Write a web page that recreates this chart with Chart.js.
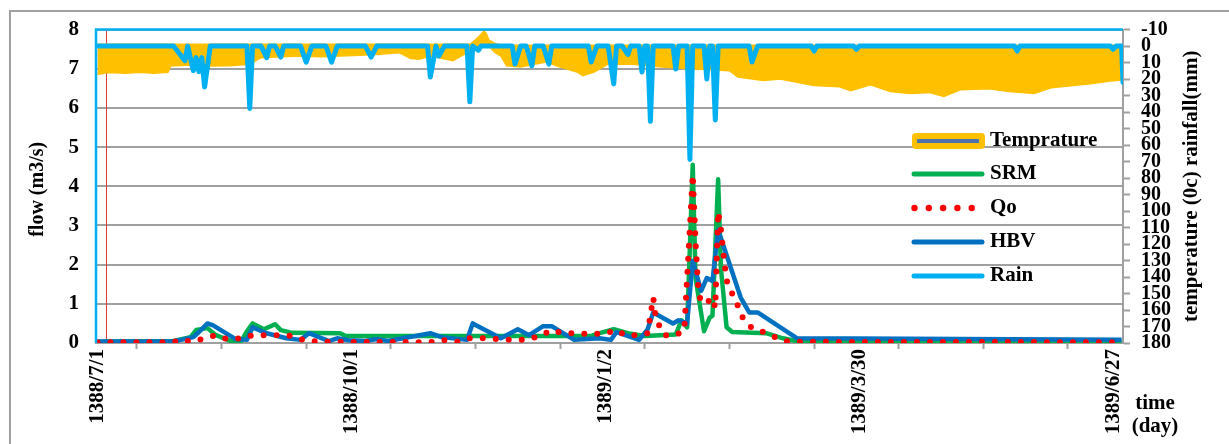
<!DOCTYPE html>
<html>
<head>
<meta charset="utf-8">
<style>html,body{margin:0;padding:0;background:#fff;}canvas{display:block;}</style>
<script src="https://cdn.jsdelivr.net/npm/chart.js@4.4.0/dist/chart.umd.min.js"></script>
</head>
<body>
<canvas id="c" width="1229" height="444"></canvas>
<script>
// ---------- DATA (day index from 1388/7/1) ----------
const xLabelDays = [0, 90, 180, 270, 360];
const xLabels = ['1388/7/1', '1388/10/1', '1389/1/2', '1389/3/30', '1389/6/27'];
const xMinorTickDays = [14, 44, 74, 104, 134, 164, 194, 224, 254, 284, 314, 344];
const flowTicks = [0, 1, 2, 3, 4, 5, 6, 7, 8];
const rightTicks = [-10, 0, 10, 20, 30, 40, 50, 60, 70, 80, 90, 100, 110, 120, 130, 140, 150, 160, 170, 180];

const hbvDays = [0,27,34,36,39,41,49,53,55,60,67,72,75,82,85,89,95,99,103,118,122,131,133,143,149,153,158,161,169,178,182,184,192,195,197,204,206,209,211,214,216,218,220,228,231,234,248,363];
const hbvFlow = [0.04,0.04,0.15,0.28,0.5,0.45,0.1,0.08,0.4,0.25,0.12,0.08,0.25,0.05,0.12,0.07,0.05,0.1,0.05,0.25,0.15,0.08,0.5,0.12,0.35,0.2,0.43,0.43,0.08,0.12,0.08,0.28,0.08,0.35,0.78,0.5,0.58,0.5,2.09,1.33,1.66,1.58,2.89,1.16,0.78,0.78,0.12,0.08];

const srmDays = [0,27,33,35,39,42,48,51,53,55,59,63,65,69,86,88,175,178,183,188,194,205,207,209,211,212,215,217,218,220,221,223,225,237,243,249,363];
const srmFlow = [0.03,0.05,0.15,0.33,0.38,0.2,0.03,0.05,0.3,0.5,0.35,0.48,0.33,0.26,0.25,0.18,0.18,0.25,0.35,0.25,0.18,0.22,0.58,0.4,4.55,1.66,0.3,0.65,0.7,4.18,1.9,0.4,0.28,0.25,0.12,0.03,0.03];

const qoDays = [0,27,29,34,38,42,46,52,55,59,64,69,74,82,118,122,128,132,137,147,152,157,161,165,170,175,180,184,187,191,195,197,198,201,205,208,211,212,213,214,216,218,219,220,221,222,223,225,227,229,232,236,241,245,363];
const qoFlow = [0.02,0.02,0.08,0.03,0.12,0.2,0.1,0.12,0.2,0.2,0.2,0.18,0.05,0.03,0.02,0.08,0.03,0.12,0.12,0.08,0.08,0.18,0.33,0.25,0.25,0.22,0.25,0.33,0.2,0.2,0.25,1.16,0.6,0.2,0.2,0.33,4.3,2.6,1.33,1.03,1.03,1.16,0.9,3.35,2.9,2.2,1.6,1.26,0.95,0.6,0.38,0.28,0.12,0.03,0.02];

const rainDays = [0,27,31,32,34,35,36,37,38,40,53,54,55,58,60,61,63,65,66,72,74,76,81,83,85,95,97,99,117,118,120,121,123,131,132,133,135,136,147,148,150,152,154,155,158,160,161,174,175,177,181,183,184,186,188,189,192,193,194,195,196,197,204,205,206,209,210,211,215,216,217,218,219,220,231,232,234,253,254,255,268,269,270,325,326,327,359,360,361,363,363.5];
const rainMm = [0,0,8.9,0,14.9,7,15.5,7,24.8,0,0,37.8,0,0,7,0,0,6.7,0,0,9.7,0,0,9.7,0,0,6.7,0,0,18.7,0,6,0,0,33.8,0,2.5,0,0,10.9,0,0,11.9,0,0,10.9,0,0,9.7,0,0,22.9,0,0,5,0,0,15.7,0,0,45.6,0,0,13.9,0,0,68.7,0,0,19.9,0,0,44.8,0,0,9.7,0,0,3,0,0,2,0,0,3,0,0,2,0,0,22];

const tempDays = [0,4,10,15,20,25,26,33,40,47,54,58,65,72,79,86,93,100,107,111,114,118,126,132,133,135,137,138,139,141,143,145,150,159,164,170,172,176,181,185,190,200,212,224,227,236,242,248,254,263,267,274,281,288,295,300,306,316,323,332,338,345,352,359,363];
const tempLow = [-1.5,-1.5,-1.5,-1.5,-1.5,-1.5,-1.5,-1.5,-1.5,-1.5,-1.5,-1.5,-1.5,-1.5,-1.5,-1.5,-1.5,-1.5,-1.5,-1.5,-1.5,-1.5,-1.5,-1.5,-3,-6,-9.8,-8,-4,-2,-1,-1,-1,-1,-1,-1,-1,-1,-1,-1,-1,-1,-1,-1,-1,-1,-1,-1,-1,-1,-1,-1,-1,-1,-1,-1,-1,-1,-1,-1,-1,-1,-1,-1,-1];
const tempHigh = [17.2,16,16.5,15.8,16.5,15.9,12,11.5,12,11.9,11,7,6.5,6,6.5,6,5.5,5,4,7.5,8,6,8.9,3,2,0.5,0,0.3,0.5,4,6,11.9,12.7,9.7,12.7,15.7,17.9,15.7,10.9,11,11,12.7,13.9,14.9,18.7,20.9,20,21.9,23.9,24.7,27,23.5,27.6,28.8,28.2,30.6,26.4,25.8,27.6,28.8,25.3,24.1,22.9,21.1,20.5];

// ---------- STYLE ----------
const FONT = "'Liberation Serif','Times New Roman',serif";
const GRID = '#A0A0A0';
const C_TEMP = '#FFC000', C_RAIN = '#00B0F0', C_SRM = '#00B050', C_QO = '#FF0000', C_HBV = '#0070C0';

const pts = (d, v) => d.map((x, i) => ({x: x, y: v[i]}));

const legendItems = [
  {label: 'Temprature', kind: 'temp'},
  {label: 'SRM', kind: 'line', color: C_SRM},
  {label: 'Qo', kind: 'dots', color: C_QO},
  {label: 'HBV', kind: 'line', color: C_HBV},
  {label: 'Rain', kind: 'line', color: C_RAIN}
];

const deco = {
  id: 'deco',
  beforeDraw(chart) {
    const c = chart.ctx;
    c.save();
    c.fillStyle = '#fff';
    c.fillRect(0, 0, chart.width, chart.height);
    c.strokeStyle = GRID; c.lineWidth = 2;
    c.beginPath(); c.moveTo(10, chart.height); c.lineTo(10, 11); c.lineTo(chart.width, 11); c.stroke();
    c.restore();
  },
  beforeDatasetsDraw(chart) {
    const c = chart.ctx, a = chart.chartArea, xs = chart.scales.x;
    const px = Math.round(xs.getPixelForValue(3)) + 0.5;
    c.save();
    c.strokeStyle = '#E0403C'; c.lineWidth = 1;
    c.beginPath(); c.moveTo(px, a.top); c.lineTo(px, a.bottom); c.stroke();
    c.restore();
  },
  afterDatasetsDraw(chart) {
    const c = chart.ctx, a = chart.chartArea;
    c.save();
    c.strokeStyle = C_RAIN; c.lineWidth = 2.5;
    c.beginPath(); c.moveTo(a.left, a.bottom); c.lineTo(a.left, a.top); c.lineTo(a.right, a.top); c.stroke();
    c.restore();
  },
  afterDraw(chart) {
    const c = chart.ctx, a = chart.chartArea;
    c.save();
    c.fillStyle = '#000';
    c.textAlign = 'center'; c.textBaseline = 'middle';
    // left axis title
    c.font = 'bold 20px ' + FONT;
    c.save(); c.translate(38, (a.top + a.bottom) / 2 + 3); c.rotate(-Math.PI / 2); c.fillText('flow (m3/s)', 0, 0); c.restore();
    // right axis title
    c.font = 'bold 21px ' + FONT;
    c.save(); c.translate(1192, (a.top + a.bottom) / 2); c.rotate(-Math.PI / 2); c.fillText('temperature (0c) rainfall(mm)', 0, 0); c.restore();
    // x axis title
    c.fillText('time', 1155, 404);
    c.fillText('(day)', 1155, 427);
    // legend
    const lx0 = 912, lx1 = 984, tx = 990;
    const ys = [141, 174, 208, 242, 276];
    legendItems.forEach((it, i) => {
      const y = ys[i];
      if (it.kind === 'temp') {
        c.fillStyle = C_TEMP;
        c.beginPath(); c.roundRect(lx0, y - 8, lx1 - lx0 + 1, 16, 4); c.fill();
        c.strokeStyle = '#4E74AE'; c.lineWidth = 4; c.lineCap = 'butt';
        c.beginPath(); c.moveTo(lx0 + 5, y); c.lineTo(lx1 - 5, y); c.stroke();
      } else if (it.kind === 'line') {
        c.strokeStyle = it.color; c.lineWidth = 5; c.lineCap = 'round';
        c.beginPath(); c.moveTo(lx0 + 2, y); c.lineTo(lx1 - 2, y); c.stroke();
      } else {
        c.fillStyle = it.color;
        for (let k = 0; k < 5; k++) { c.beginPath(); c.arc(lx0 + 2.5 + k * 14.3, y, 3.2, 0, Math.PI * 2); c.fill(); }
      }
      c.fillStyle = '#000'; c.textAlign = 'left'; c.font = 'bold 21px ' + FONT;
      c.fillText(it.label, tx, y);
    });
    c.restore();
  }
};

const tickFont = {family: FONT, size: 21, weight: 'bold'};

new Chart(document.getElementById('c'), {
  type: 'line',
  data: {
    datasets: [
      {label: 'Rain', data: pts(rainDays, rainMm), yAxisID: 'y2', borderColor: C_RAIN, borderWidth: 5, pointRadius: 0, borderJoinStyle: 'round', borderCapStyle: 'round', tension: 0, order: 0},
      {label: 'Qo', data: pts(qoDays, qoFlow), yAxisID: 'y', borderColor: C_QO, borderWidth: 6, borderDash: [0, 13], borderCapStyle: 'round', pointRadius: 0, tension: 0, order: 1},
      {label: 'HBV', data: pts(hbvDays, hbvFlow), yAxisID: 'y', borderColor: C_HBV, borderWidth: 4.5, borderJoinStyle: 'round', pointRadius: 0, tension: 0, order: 2},
      {label: 'SRM', data: pts(srmDays, srmFlow), yAxisID: 'y', borderColor: C_SRM, borderWidth: 4.5, borderJoinStyle: 'round', pointRadius: 0, tension: 0, order: 3},
      {label: 'tempLow', data: pts(tempDays, tempLow), yAxisID: 'y2', borderColor: 'rgba(0,0,0,0)', borderWidth: 1, pointRadius: 0, fill: false, tension: 0, order: 5},
      {label: 'Temprature', data: pts(tempDays, tempHigh), yAxisID: 'y2', borderColor: C_TEMP, backgroundColor: C_TEMP, borderWidth: 1.5, pointRadius: 0, fill: 4, tension: 0, order: 4}
    ]
  },
  options: {
    responsive: false,
    devicePixelRatio: 1,
    animation: false,
    layout: {padding: {top: 25, left: 0, right: 0, bottom: 0}},
    plugins: {legend: {display: false}, title: {display: false}, tooltip: {enabled: false}},
    scales: {
      x: {
        type: 'linear', min: -0.5, max: 363.5,
        afterBuildTicks: s => { s.ticks = xLabelDays.concat(xMinorTickDays).sort((p, q) => p - q).map(v => ({value: v})); },
        afterFit: s => { s.height = 101; },
        grid: {drawOnChartArea: false, drawTicks: true, tickLength: 6, tickWidth: 2,
               tickColor: ctx => (ctx.tick && xLabelDays.includes(ctx.tick.value)) ? 'rgba(0,0,0,0)' : GRID},
        border: {display: true, color: GRID, width: 2},
        ticks: {autoSkip: false, minRotation: 90, maxRotation: 90, padding: 0, color: '#000', font: tickFont,
                callback: v => { const i = xLabelDays.indexOf(v); return i >= 0 ? xLabels[i] : ''; }}
      },
      y: {
        position: 'left', min: 0, max: 8,
        afterBuildTicks: s => { s.ticks = flowTicks.map(v => ({value: v})); },
        afterFit: s => { s.width = 96; },
        grid: {color: GRID, lineWidth: 2, drawTicks: false},
        border: {display: false},
        ticks: {padding: 17, color: '#000', font: tickFont, autoSkip: false}
      },
      y2: {
        position: 'right', reverse: true, min: -10, max: 180,
        afterBuildTicks: s => { s.ticks = rightTicks.map(v => ({value: v})); },
        afterFit: s => { s.width = 106; },
        grid: {drawOnChartArea: false, drawTicks: true, tickLength: 7, tickWidth: 2, tickColor: GRID},
        border: {display: true, color: GRID, width: 2},
        ticks: {autoSkip: false, padding: 11, color: '#000', font: {family: FONT, size: 20, weight: 'bold'}}
      }
    }
  },
  plugins: [deco]
});
</script>
</body>
</html>
